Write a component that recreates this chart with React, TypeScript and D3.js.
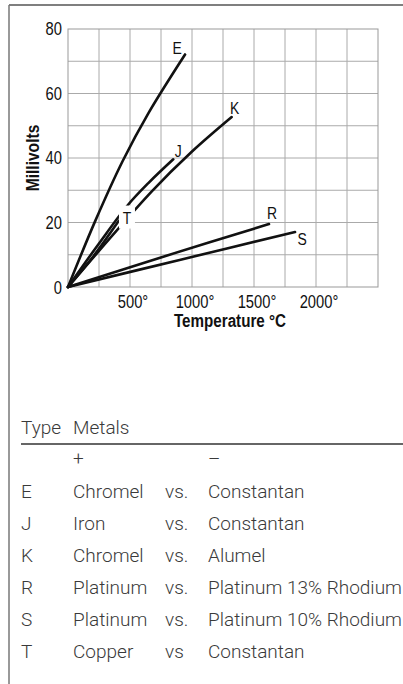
import React from 'react';
import * as d3 from 'd3';

// thermocouple output curves: [°C, mV]
const curveE: [number, number][] = [[0, 0], [220, 20.5], [440, 39], [650, 54], [944, 72.1]];
const curveJ: [number, number][] = [[0, 0], [250, 13.5], [478, 25.2], [650, 32.3], [849, 39.6]];
const curveK: [number, number][] = [[0, 0], [672, 29.5], [1000, 42], [1320, 52.7]];
const curveR: [number, number][] = [[0, 0], [800, 9.8], [1621, 19.5]];
const curveS: [number, number][] = [[0, 0], [900, 8.4], [1831, 17.05]];
const curveT: [number, number][] = [[0, 0], [200, 9.3], [411, 20.6]];

const curveNames = ['E', 'J', 'K', 'R', 'S', 'T'];
const curves = [curveE, curveJ, curveK, curveR, curveS, curveT];

const xTicks = [500, 1000, 1500, 2000];
const yTicks = [0, 20, 40, 60, 80];

// table
const tableTypes = ['E', 'J', 'K', 'R', 'S', 'T'];
const plusMetals = ['Chromel', 'Iron', 'Chromel', 'Platinum', 'Platinum', 'Copper'];
const vsWords = ['vs.', 'vs.', 'vs.', 'vs.', 'vs.', 'vs'];
const minusMetals = ['Constantan', 'Constantan', 'Alumel', 'Platinum 13% Rhodium', 'Platinum 10% Rhodium', 'Constantan'];

const W = 403;
const H = 684;
const plot = { left: 68, right: 378, top: 29, bottom: 287 };

// label placement relative to the curve's last point
const labelOffset: Record<string, [number, number]> = {
  E: [-8, -7],
  J: [5, -8],
  K: [3, -9],
  R: [3, -11],
  S: [7, 7],
  T: [8, -3],
};

const chartFont = '"Liberation Sans", Arial, sans-serif';
const tableFont = 'Roboto, "Noto Sans", sans-serif';

// narrow text: the original uses a condensed face
const Narrow = ({ x, y, anchor = 'start', rotate = 0, sx = 0.82, dy, children, ...rest }: any) => (
  <text
    transform={`translate(${x},${y}) rotate(${rotate}) scale(${sx},1)`}
    textAnchor={anchor}
    dy={dy}
    {...rest}
  >
    {children}
  </text>
);

export default function App() {
  const x = d3.scaleLinear().domain([0, 2500]).range([plot.left, plot.right]);
  const y = d3.scaleLinear().domain([0, 80]).range([plot.bottom, plot.top]);

  const line = d3.line<[number, number]>()
    .x(d => x(d[0]))
    .y(d => y(d[1]))
    .curve(d3.curveCatmullRom.alpha(0.5));

  const gridX = d3.range(250, 2500, 250);
  const gridY = d3.range(10, 80, 10);

  const rowTop = 498;
  const rowStep = 32;

  return (
    <svg width={W} height={H} style={{ position: 'absolute', left: 0, top: 0 }}>
      <rect width={W} height={H} fill="#fff" />
      {/* frame */}
      <line x1={9} x2={W} y1={5} y2={5} stroke="#555" strokeWidth={1.5} />
      <line x1={9} x2={9} y1={5} y2={H} stroke="#777" strokeWidth={1.5} />

      {/* grid */}
      <g stroke="#aaa" strokeWidth={1}>
        {gridX.map(t => <line key={'gx' + t} x1={x(t)} x2={x(t)} y1={plot.top} y2={plot.bottom} />)}
        {gridY.map(v => <line key={'gy' + v} x1={plot.left} x2={plot.right} y1={y(v)} y2={y(v)} />)}
        <rect x={plot.left} y={plot.top} width={plot.right - plot.left} height={plot.bottom - plot.top} fill="none" stroke="#999" />
      </g>

      {/* curves */}
      <g fill="none" stroke="#111" strokeWidth={2.6} strokeLinecap="round">
        {curves.map((c, i) => <path key={curveNames[i]} d={line(c) || ''} />)}
      </g>

      {/* curve labels */}
      <g fontFamily={chartFont} fontSize={17} fill="#111">
        {curves.map((c, i) => {
          const name = curveNames[i];
          const last = c[c.length - 1];
          const [dx, dy] = labelOffset[name];
          const cx = x(last[0]) + dx;
          const cy = y(last[1]) + dy;
          return (
            <g key={'lab' + name}>
              {name === 'T' && <rect x={cx - 8} y={cy - 12} width={16} height={23} fill="#fff" />}
              <Narrow x={cx} y={cy} dy="0.36em" anchor="middle">{name}</Narrow>
            </g>
          );
        })}
      </g>

      {/* axes text */}
      <g fontFamily={chartFont} fontSize={18} fill="#111">
        {yTicks.map(v => (
          <Narrow key={'yt' + v} x={62} y={y(v) + (v === 0 ? 1 : 0)} dy="0.36em" anchor="end">{v}</Narrow>
        ))}
        {xTicks.map(t => (
          <Narrow key={'xt' + t} x={x(t) + 3} y={308} anchor="middle">{t}°</Narrow>
        ))}
        <Narrow x={230} y={327} anchor="middle" fontWeight="bold" fontSize={19} sx={0.8}>Temperature °C</Narrow>
        <Narrow x={39} y={158} rotate={-90} anchor="middle" fontWeight="bold" fontSize={19} sx={0.82}>Millivolts</Narrow>
      </g>

      {/* table */}
      <g fontFamily={tableFont} fontWeight={300} fontSize={19} fill="#3a3a3a">
        <text x={21} y={434}>Type</text>
        <text x={73} y={434}>Metals</text>
        <line x1={21} x2={W} y1={444} y2={444} stroke="#333" strokeWidth={1.5} />
        <text x={73} y={465}>+</text>
        <text x={208} y={465}>–</text>
        {tableTypes.map((t, i) => (
          <g key={'row' + t}>
            <text x={21} y={rowTop + i * rowStep}>{t}</text>
            <text x={73} y={rowTop + i * rowStep}>{plusMetals[i]}</text>
            <text x={165} y={rowTop + i * rowStep}>{vsWords[i]}</text>
            <text x={208} y={rowTop + i * rowStep}>{minusMetals[i]}</text>
          </g>
        ))}
      </g>
    </svg>
  );
}
